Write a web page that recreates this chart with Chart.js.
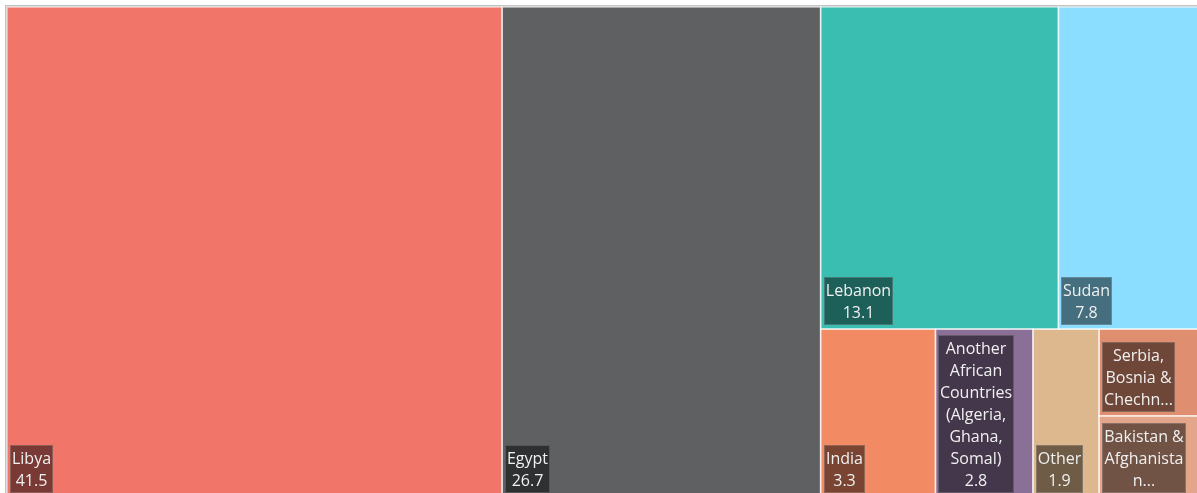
<!DOCTYPE html>
<html>
<head>
<meta charset="utf-8">
<script src="https://cdn.jsdelivr.net/npm/chart.js@4.4.1/dist/chart.umd.min.js"></script>
<style>
  html, body { margin: 0; padding: 0; background: #ffffff; overflow: hidden; }
  #wrap { position: relative; width: 1200px; height: 497px; }
</style>
</head>
<body>
<div id="wrap"><canvas id="chart"></canvas></div>
<script>
// Share of each origin (percent)
const CATEGORIES = [
  'Libya',
  'Egypt',
  'Lebanon',
  'Sudan',
  'India',
  'Another African Countries (Algeria, Ghana, Somal)',
  'Other',
  'Serbia, Bosnia & Chechnya',
  'Bakistan & Afghanistan'
];
const VALUES = [41.5, 26.7, 13.1, 7.8, 3.3, 2.8, 1.9, 1.5, 1.4];
const COLORS = [
  '#F2756A', '#5F6062', '#3BBEB2', '#8BDEFF', '#F28B64',
  '#8A6F96', '#DDB88F', '#DF8F70', '#E3A68A'
];
// Strips of the treemap: which cells share a strip and which way it runs.
// 'col' strips take the full remaining height, 'row' strips the full remaining width.
const STRIPS = [
  { dir: 'col', items: [0] },
  { dir: 'col', items: [1] },
  { dir: 'row', items: [2, 3] },
  { dir: 'col', items: [4] },
  { dir: 'col', items: [5] },
  { dir: 'col', items: [6] },
  { dir: 'col', items: [7, 8] }
];

// Cell rectangles in unit (scale) space, sized by value
function layoutStrips(values, strips) {
  const rect = { x0: 0, y0: 0, x1: 1, y1: 1 };
  let remaining = values.reduce((a, b) => a + b, 0);
  const out = [];
  strips.forEach(s => {
    const sSum = s.items.reduce((a, i) => a + values[i], 0);
    const frac = sSum / remaining;
    if (s.dir === 'col') {
      const w = (rect.x1 - rect.x0) * frac;
      let y = rect.y0;
      s.items.forEach(i => {
        const h = (rect.y1 - rect.y0) * values[i] / sSum;
        out[i] = { x0: rect.x0, x1: rect.x0 + w, y0: y, y1: y + h };
        y += h;
      });
      rect.x0 += w;
    } else {
      const h = (rect.y1 - rect.y0) * frac;
      let x = rect.x0;
      s.items.forEach(i => {
        const w = (rect.x1 - rect.x0) * values[i] / sSum;
        out[i] = { x0: x, x1: x + w, y0: rect.y0, y1: rect.y0 + h };
        x += w;
      });
      rect.y0 += h;
    }
    remaining -= sSum;
  });
  return out;
}

const FONT = '16px "Open Sans", "Noto Sans", sans-serif';
const LINE_H = 22, PAD_X = 2, PAD_Y = 2, MARGIN = 3, GAP_B = 4;

// Greedy word wrap; words wider than the box are split by character
function wrapText(ctx, text, maxW) {
  const lines = [];
  let cur = '';
  text.split(' ').forEach(word => {
    const test = cur ? cur + ' ' + word : word;
    if (ctx.measureText(test).width <= maxW) { cur = test; return; }
    if (cur) { lines.push(cur); cur = ''; }
    if (ctx.measureText(word).width <= maxW) { cur = word; return; }
    let piece = '';
    for (const ch of word) {
      if (ctx.measureText(piece + ch).width > maxW && piece) { lines.push(piece); piece = ch; }
      else piece += ch;
    }
    cur = piece;
  });
  if (cur) lines.push(cur);
  return lines;
}

// Last visible line gets an ellipsis, trimmed with a little slack
function fitEllipsis(ctx, text, maxW) {
  let t = text;
  while (t.length && ctx.measureText(t + '...').width > maxW - 8) t = t.slice(0, -1);
  return t + '...';
}

const treemapPlugin = {
  id: 'stripTreemap',
  beforeDraw(chart) {
    const { ctx, chartArea } = chart;
    ctx.save();
    ctx.fillStyle = '#c4c4c4';
    ctx.fillRect(chartArea.left - 2, chartArea.top - 2, 2, chart.height);
    ctx.fillRect(chartArea.left - 2, chartArea.top - 2, chart.width, 2);
    ctx.restore();
  },
  afterDatasetsDraw(chart) {
    const { ctx } = chart;
    const xs = chart.scales.x, ys = chart.scales.y;
    const cells = layoutStrips(VALUES, STRIPS);
    const px = c => ({
      l: xs.getPixelForValue(c.x0), r: xs.getPixelForValue(c.x1),
      t: ys.getPixelForValue(c.y0), b: ys.getPixelForValue(c.y1)
    });
    ctx.save();
    // cells
    cells.forEach((c, i) => {
      const p = px(c);
      ctx.fillStyle = COLORS[i];
      ctx.fillRect(p.l, p.t, p.r - p.l, p.b - p.t);
    });
    // separators
    ctx.strokeStyle = 'rgba(255,255,255,0.6)';
    ctx.lineWidth = 1.5;
    cells.forEach(c => {
      const p = px(c);
      ctx.strokeRect(p.l, p.t, p.r - p.l, p.b - p.t);
    });
    // labels
    ctx.font = FONT;
    ctx.textAlign = 'center';
    ctx.textBaseline = 'middle';
    cells.forEach((c, i) => {
      const p = px(c);
      const maxW = (p.r - p.l) - 2 * MARGIN - 2 * PAD_X - 8;
      const nameLines = wrapText(ctx, CATEGORIES[i], maxW);
      const all = nameLines.concat([VALUES[i].toFixed(1)]);
      const maxLines = Math.floor(((p.b - p.t) - MARGIN - GAP_B - 2 * PAD_Y) / LINE_H);
      let lines = all;
      if (all.length > maxLines) {
        lines = nameLines.slice(0, maxLines);
        lines[lines.length - 1] = fitEllipsis(ctx, lines[lines.length - 1], maxW);
      }
      const textW = Math.max(...lines.map(s => ctx.measureText(s).width));
      const boxW = Math.round(textW + 2 * PAD_X);
      const boxH = lines.length * LINE_H + 2 * PAD_Y;
      const bx = Math.round(p.l + MARGIN);
      const by = Math.round(p.b - GAP_B - boxH);
      ctx.fillStyle = 'rgba(0,0,0,0.5)';
      ctx.fillRect(bx, by, boxW, boxH);
      ctx.strokeStyle = 'rgba(255,255,255,0.18)';
      ctx.lineWidth = 1;
      ctx.strokeRect(bx + 0.5, by + 0.5, boxW - 1, boxH - 1);
      ctx.fillStyle = '#f0f0f0';
      lines.forEach((s, k) => {
        ctx.fillText(s, bx + boxW / 2, by + PAD_Y + LINE_H * (k + 0.5) + 1);
      });
    });
    ctx.restore();
  }
};

new Chart(document.getElementById('chart'), {
  type: 'scatter',
  data: { datasets: [{ data: [] }] },
  options: {
    responsive: true,
    maintainAspectRatio: false,
    animation: false,
    layout: { padding: { left: 7, top: 7, right: 0, bottom: 0 } },
    scales: {
      x: { type: 'linear', min: 0, max: 1, display: false },
      y: { type: 'linear', min: 0, max: 1, reverse: true, display: false }
    },
    plugins: { legend: { display: false }, tooltip: { enabled: false } }
  },
  plugins: [treemapPlugin]
});
</script>
</body>
</html>
